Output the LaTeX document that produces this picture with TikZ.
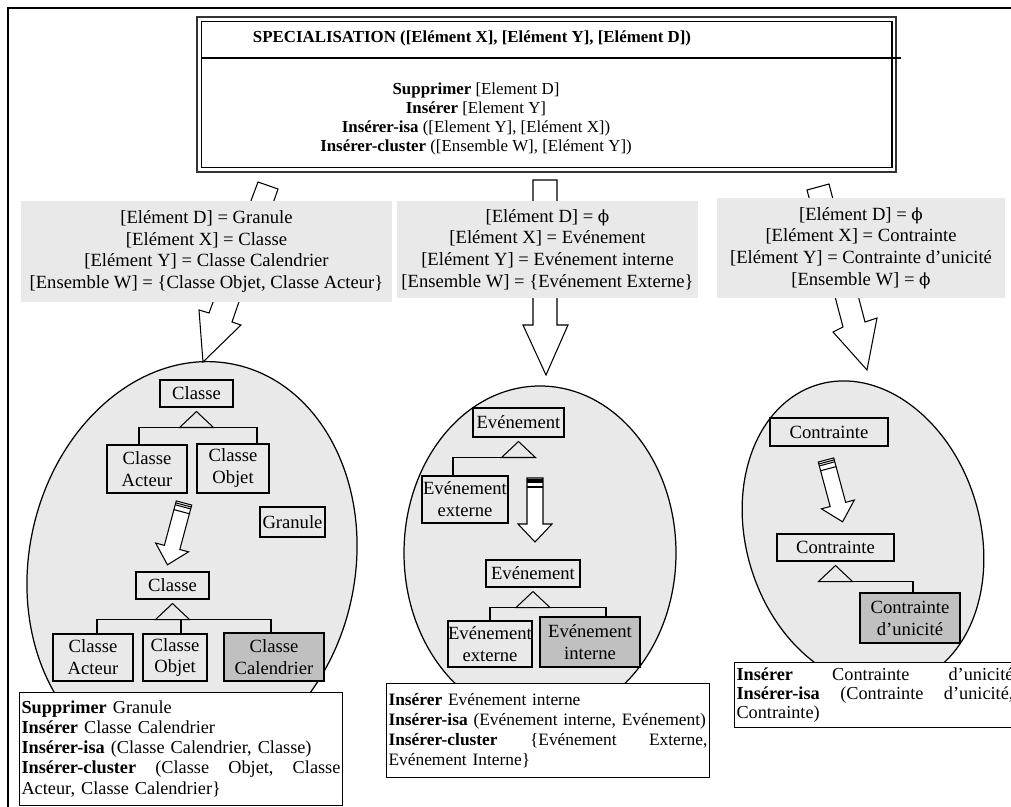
\documentclass[tikz,border=0pt]{standalone}
\usepackage{fontspec}
\setmainfont{Liberation Serif}
\newfontfamily\symb{DejaVu Serif}[Scale=0.9]
\usetikzlibrary{calc}
\definecolor{fondgris}{RGB}{233,233,233}
\definecolor{eltgris}{RGB}{192,192,192}
\newcommand{\prm}[1]{[#1]}
\newcommand{\vide}{{\symb ϕ}}
\tikzset{
  cadre/.style={line width=0.8pt},
  lien/.style={line width=0.6pt},
  vue/.style={draw,line width=0.7pt,fill=fondgris},
  bloc/.style={draw,line width=0.6pt,fill=white,line join=miter},
  sz/.style 2 args={minimum width=#1*0.02cm,minimum height=#2*0.02cm},
  elt/.style={draw,line width=0.6pt,inner sep=0pt,align=center,font=\fontsize{10.6}{12.5}\selectfont},
  eltsel/.style={elt,fill=eltgris},
  param/.style={fill=fondgris,inner sep=0pt,align=center,font=\fontsize{10.6}{12.35}\selectfont},
  opbox/.style={draw,line width=0.6pt,fill=white,anchor=north west,inner xsep=0.04cm,inner ysep=0pt,align=left,font=\fontsize{10.4}{11.4}\selectfont},
  specbox/.style={draw=black!80,line width=0.6pt,inner sep=0pt},
  specin/.style={line width=1.1pt},
}
\newcommand{\isa}[2]{%
  \coordinate (#2) at ($(#1.south)+(0,20)$);
  \draw[lien] ($(#2)+(-17,0)$) -- ($(#1.south)+(0,4)$) -- ($(#2)+(17,0)$) -- cycle;}
\newcommand{\sarrow}[3]{%
  \begin{scope}[shift={(#1,#2)},rotate=#3]
    \draw[bloc] (-8,0) -- (8,0) -- (8,46) -- (17,46) -- (0,64) -- (-17,46) -- (-8,46) -- cycle;
    \draw[lien] (-8,2) -- (8,2) (-8,4) -- (8,4) (-8,9) -- (8,9);
  \end{scope}}

\begin{document}
\begin{tikzpicture}[x=0.02cm,y=-0.02cm]
\useasboundingbox (0,0) rectangle (1011,807);
\draw[cadre] (1011,8) -- (8,8) -- (8,807);

\draw[vue,rotate around={-12:(192,565)}] (192,565) ellipse [x radius=163,y radius=205];
\draw[vue] (540,553) ellipse [x radius=136,y radius=167];
\draw[vue,rotate around={17:(863,534)}] (863,534) ellipse [x radius=117,y radius=156];

\draw[bloc] (258,182) -- (278,189) -- (232,322) -- (241,325) -- (203,362) -- (199,310) -- (209,313) -- cycle;
\draw[bloc] (533,180) -- (557,180) -- (557,325) -- (568,325) -- (546,375) -- (523,325) -- (533,325) -- cycle;
\draw[bloc] (807,190) -- (829,184) -- (865,322) -- (877,318) -- (867,370) -- (833,332) -- (843,327) -- cycle;

\node[param,sz={371}{101}] (pa) at (206.5,251.5) {\prm{Elément D} = Granule\\\prm{Elément X} = Classe\\\prm{Elément Y} = Classe Calendrier\\\prm{Ensemble W} = \{Classe Objet, Classe Acteur\}};
\node[param,sz={301}{97}] (pb) at (547.5,249.5) {\prm{Elément D} = \vide\\\prm{Elément X} = Evénement\\\prm{Elément Y} = Evénement interne\\\prm{Ensemble W} = \{Evénement Externe\}};
\node[param,sz={288}{100}] (pc) at (861,248) {\prm{Elément D} = \vide\\\prm{Elément X} = Contrainte\\\prm{Elément Y} = Contrainte d’unicité\\\prm{Ensemble W} = \vide};

\node[specbox,sz={699}{155}] (spec) at (546.5,94.5) {};
\draw[specin] ($(spec.north west)+(5,5)$) rectangle ($(spec.south east)+(-5,-5)$);
\draw[lien] (202,58) -- (901,58);
\node[font=\bfseries\fontsize{9.6}{12}\selectfont] (titre) at (472,38) {SPECIALISATION (\prm{Elément X}, \prm{Elément Y}, \prm{Elément D})};
\node[align=center,font=\fontsize{9.6}{10.8}\selectfont] (ops) at (476,119) {\textbf{Supprimer} \prm{Element D}\\\textbf{Insérer} \prm{Element Y}\\\textbf{Insérer-isa} (\prm{Element Y}, \prm{Elément X})\\\textbf{Insérer-cluster} (\prm{Ensemble W}, \prm{Elément Y})};

\node[elt,sz={73}{27}] (c1) at (196.5,393.5) {Classe};
\node[elt,sz={80}{48}] (c1a) at (147,469) {Classe\\Acteur};
\node[elt,sz={72}{49}] (c1o) at (233,468.5) {Classe\\Objet};
\isa{c1}{t1}
\draw[lien] ($(c1a.north)+(-8,0)$) |- (t1) -| ($(c1o.north)+(24,0)$);
\node[elt,sz={65}{30}] (g1) at (292.5,522) {Granule};
\sarrow{184}{503}{-15}
\node[elt,sz={73}{27}] (c2) at (172.5,585.5) {Classe};
\node[elt,sz={80}{47}] (c2a) at (93,657.5) {Classe\\Acteur};
\node[elt,sz={64}{47}] (c2o) at (175,657.5) {Classe\\Objet};
\node[eltsel,sz={100}{48}] (c2c) at (274,657) {Classe\\Calendrier};
\isa{c2}{t2}
\draw[lien] ($(c2a.north)+(4,0)$) |- (t2) -| ($(c2c.north)+(-3,0)$);
\coordinate (v2) at ($(c2o.north)+(6,0)$);
\draw[lien] (v2) -- (v2 |- t2);

\node[elt,sz={91}{29}] (e1) at (518.5,422.5) {Evénement};
\node[elt,sz={86}{47}] (e1x) at (465,499.5) {Evénement\\externe};
\isa{e1}{t3}
\draw[lien] ($(e1x.north)+(-12,0)$) |- (t3);
\sarrow{535}{478}{0}
\node[elt,sz={94}{27}] (e2) at (533,573.5) {Evénement};
\node[elt,sz={84}{46}] (e2x) at (490,644) {Evénement\\externe};
\node[eltsel,sz={100}{50}] (e2i) at (590,642) {Evénement\\interne};
\isa{e2}{t4}
\draw[lien] (e2x.north) |- (t4) -| ($(e2i.north)+(16,0)$);

\node[elt,sz={118}{28}] (k1) at (829,432) {Contrainte};
\sarrow{826}{460}{15}
\node[elt,sz={117}{27}] (k2) at (835.5,547.5) {Contrainte};
\node[eltsel,sz={100}{50}] (k2u) at (910,618) {Contrainte\\d’unicité};
\isa{k2}{t5}
\draw[lien] (t5) -| ($(k2u.north)+(3,0)$);

\node[opbox,text width=6.38cm,minimum height=2.26cm] (opa) at (19,692) {\textbf{Supprimer} Granule\\\textbf{Insérer} Classe Calendrier\\\textbf{Insérer-isa} (Classe Calendrier, Classe)\\\textbf{Insérer-cluster}\hfill(Classe\hfill Objet,\hfill Classe\\Acteur, Classe Calendrier\}};
\node[opbox,text width=6.38cm,minimum height=1.88cm,font=\fontsize{9.9}{11.4}\selectfont] (opb) at (386,683) {\textbf{Insérer} Evénement interne\\\mbox{\textbf{Insérer-isa} (Evénement interne, Evénement)}\\\textbf{Insérer-cluster}\hfill\{Evénement\hfill Externe,\\Evénement Interne\}};
\node[opbox,text width=5.54cm,minimum height=1.3cm,font=\fontsize{10.4}{10.8}\selectfont] (opc) at (734,662) {\textbf{Insérer}\hfill Contrainte\hfill d’unicité\\\textbf{Insérer-isa}\hfill(Contrainte\hfill d’unicité,\\Contrainte)};
\end{tikzpicture}
\end{document}
